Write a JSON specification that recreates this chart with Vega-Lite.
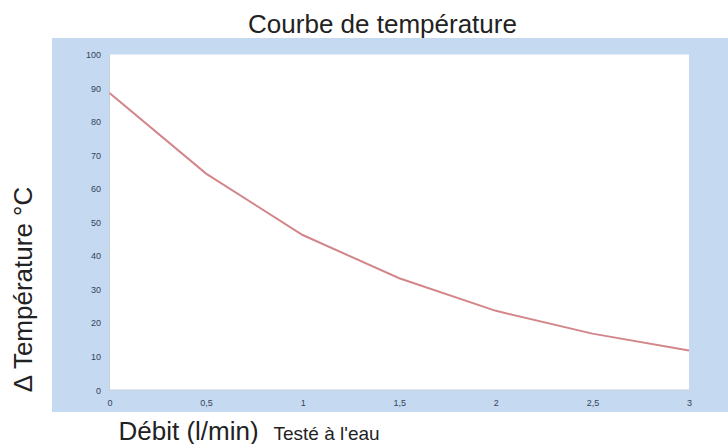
{
  "$schema": "https://vega.github.io/schema/vega-lite/v6.json",
  "width": 676,
  "height": 374,
  "autosize": {"type": "none"},
  "padding": {"left": 52, "top": 38, "right": 0, "bottom": 32},
  "background": "white",
  "config": {
    "view": {"fill": "#c5d9f1", "stroke": null},
    "font": "Liberation Sans",
    "axis": {
      "grid": false,
      "domain": false,
      "ticks": false,
      "zindex": 1,
      "labelFont": "Liberation Sans",
      "labelFontSize": 9,
      "labelColor": "#34445a",
      "titleFont": "Liberation Sans",
      "titleFontWeight": "normal",
      "titleColor": "#222222"
    }
  },
  "title": {
    "text": "Courbe de température",
    "fontSize": 26,
    "font": "Liberation Sans",
    "fontWeight": "normal",
    "color": "#222222",
    "anchor": "middle",
    "frame": "group",
    "dx": -7.5,
    "offset": 0
  },
  "resolve": {"axis": {"x": "independent"}},
  "layer": [
    {
      "data": {"values": [{}]},
      "mark": {"type": "rect", "color": "white"},
      "encoding": {
        "x": {
          "datum": 0,
          "type": "quantitative",
          "scale": {"domain": [-0.2977, 3.2019], "nice": false, "zero": false},
          "axis": {
            "orient": "bottom",
            "offset": -22,
            "values": [0, 0.5, 1, 1.5, 2, 2.5, 3],
            "format": "~g",
            "labelExpr": "replace(datum.label, '.', ',')",
            "labelPadding": 8,
            "title": "Débit (l/min)",
            "titleFontSize": 26,
            "titleAlign": "left",
            "titleBaseline": "alphabetic",
            "titleX": 66,
            "titleY": 49
          }
        },
        "x2": {"datum": 3},
        "y": {
          "datum": 0,
          "type": "quantitative",
          "scale": {"domain": [-6.557, 104.92], "nice": false, "zero": false},
          "axis": {
            "offset": -57.5,
            "values": [0, 10, 20, 30, 40, 50, 60, 70, 80, 90, 100],
            "labelPadding": 9,
            "title": "Δ Température °C",
            "titleFontSize": 26,
            "titleX": -86.5,
            "titleY": 251,
            "titleAngle": -90,
            "titleAlign": "center",
            "titleBaseline": "middle"
          }
        },
        "y2": {"datum": 100}
      }
    },
    {
      "data": {"values": [{}]},
      "mark": {"type": "rule", "color": "#c9ced6", "strokeWidth": 1},
      "encoding": {
        "x": {"datum": 0, "type": "quantitative", "axis": null},
        "y": {
          "datum": 0,
          "type": "quantitative",
          "axis": {
            "offset": -57.5,
            "values": [0, 10, 20, 30, 40, 50, 60, 70, 80, 90, 100],
            "labelPadding": 9,
            "title": "Δ Température °C",
            "titleFontSize": 26,
            "titleX": -86.5,
            "titleY": 251,
            "titleAngle": -90,
            "titleAlign": "center",
            "titleBaseline": "middle"
          }
        },
        "y2": {"datum": 100}
      }
    },
    {
      "data": {"values": [{}]},
      "mark": {"type": "rule", "color": "#c9ced6", "strokeWidth": 1},
      "encoding": {
        "x": {"datum": 0, "type": "quantitative", "axis": null},
        "x2": {"datum": 3},
        "y": {
          "datum": 0,
          "type": "quantitative",
          "axis": {
            "offset": -57.5,
            "values": [0, 10, 20, 30, 40, 50, 60, 70, 80, 90, 100],
            "labelPadding": 9,
            "title": "Δ Température °C",
            "titleFontSize": 26,
            "titleX": -86.5,
            "titleY": 251,
            "titleAngle": -90,
            "titleAlign": "center",
            "titleBaseline": "middle"
          }
        }
      }
    },
    {
      "data": {
        "values": [
          {"debit": 0, "dt": 88.5},
          {"debit": 0.5, "dt": 64.5},
          {"debit": 1, "dt": 46.2},
          {"debit": 1.5, "dt": 33.3},
          {"debit": 2, "dt": 23.6},
          {"debit": 2.5, "dt": 16.8},
          {"debit": 3, "dt": 11.8}
        ]
      },
      "mark": {"type": "line", "color": "#d3868a", "strokeWidth": 2, "interpolate": "linear"},
      "encoding": {
        "x": {
          "field": "debit",
          "type": "quantitative",
          "axis": {
            "orient": "bottom",
            "offset": -22,
            "labels": false,
            "title": "Testé à l'eau",
            "titleFontSize": 19,
            "titleAlign": "left",
            "titleBaseline": "alphabetic",
            "titleX": 221,
            "titleY": 49
          }
        },
        "y": {
          "field": "dt",
          "type": "quantitative",
          "axis": {
            "offset": -57.5,
            "values": [0, 10, 20, 30, 40, 50, 60, 70, 80, 90, 100],
            "labelPadding": 9,
            "title": "Δ Température °C",
            "titleFontSize": 26,
            "titleX": -86.5,
            "titleY": 251,
            "titleAngle": -90,
            "titleAlign": "center",
            "titleBaseline": "middle"
          }
        }
      }
    }
  ]
}
